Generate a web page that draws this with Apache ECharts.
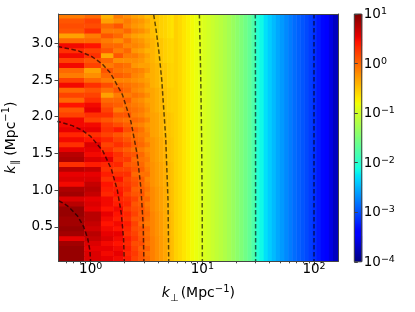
<!DOCTYPE html>
<html><head><meta charset="utf-8">
<script src="https://cdn.jsdelivr.net/npm/echarts@6/dist/echarts.min.js"></script>
<style>html,body{margin:0;padding:0;background:#fff}#c{width:415px;height:312px}</style>
</head><body><div id="c"></div>
<script>
// ---------------- data ----------------
// k_perp bin edges (Mpc^-1): linear bins at low k, log bins at high k
const kperpEdgesLow = [0.515, 0.875, 1.235, 1.595, 1.955, 2.315, 2.675, 3.035, 3.395, 3.755, 4.115, 4.475, 4.835, 5.195, 5.555];
const kperpEdgesHigh = [5.555, 6.04, 6.57, 7.15, 7.78, 8.46, 9.20, 10.0, 10.9, 11.9, 12.9, 14.0, 15.3, 16.6, 18.1, 19.7, 21.4, 23.3, 25.3, 27.5, 29.9, 32.5, 35.4, 38.5, 41.9, 45.5, 49.5, 53.9, 58.6, 63.7, 69.3, 75.4, 82.0, 89.2, 97.0, 105.5, 114.8, 124.8, 135.8, 147.7, 165];
const kparRange = [0.03, 3.4];
// log10 power, columns of first 8 k_perp bins, rows from top (high k_par) to bottom
const powerFine = [
  [-0.1,0.1,0.15,0.1,-0.3,0.0,0.5,0.3,0.5,0.2, 0.5,0.0,-0.1,0.2,0.5,0.0,0.2,0.0,0.45,0.1, 0.2,0.5,0.5,0.55,0.35,0.5,0.3,0.55,0.75,0.8, 0.3,0.75,0.55,0.6,0.5,0.8,0.85,0.6,0.75,0.9, 0.9,0.85,0.85,0.9,0.85,0.55,0.85,0.9,0.9,0.9],
  [0.0,0.2,0.15,0.3,-0.1,0.0,0.45,0.2,0.3,0.1, 0.2,-0.3,-0.2,0.0,0.3,0.1,0.2,0.3,0.5,0.55, 0.3,0.2,0.5,0.55,0.3,0.45,0.6,0.55,0.5,0.6, 0.4,0.7,0.55,0.6,0.7,0.75,0.7,0.55,0.6,0.55, 0.75,0.75,0.7,0.65,0.75,0.7,0.6,0.55,0.6,0.6],
  [-0.4,-0.3,0.0,-0.1,0.1,-0.1,0.0,0.1,-0.35,0.0, -0.1,0.1,0.0,-0.1,0.15,-0.05,-0.3,0.0,0.1,0.2, 0.3,0.1,0.25,0.3,0.2,0.35,0.2,0.3,0.45,0.55, 0.35,0.3,0.4,0.3,0.45,0.4,0.35,0.5,0.5,0.45, 0.55,0.5,0.45,0.5,0.55,0.6,0.5,0.55,0.5,0.55],
  [-0.1,-0.2,0.1,-0.1,0.0,-0.2,0.0,-0.1,0.1,-0.2, 0.0,-0.05,0.05,-0.15,0.0,0.1,-0.1,0.0,0.05,-0.1, 0.1,0.0,0.15,0.4,0.1,0.2,0.3,0.15,0.3,0.25, 0.35,0.2,0.3,0.45,0.3,0.4,0.45,0.35,0.4,0.5, 0.45,0.4,0.5,0.45,0.55,0.5,0.45,0.5,0.55,0.5],
  [-0.2,-0.1,-0.15,0.0,-0.2,-0.05,-0.15,0.0,-0.1,-0.2, -0.05,-0.1,0.0,-0.15,-0.05,0.0,-0.1,0.05,-0.05,0.0, 0.1,-0.05,0.05,0.15,0.0,0.1,0.2,0.05,0.15,0.25, 0.1,0.2,0.3,0.2,0.25,0.3,0.2,0.3,0.35,0.25, 0.35,0.3,0.4,0.35,0.3,0.4,0.35,0.4,0.35,0.4],
  [-0.3,-0.2,-0.25,-0.15,-0.3,-0.2,-0.15,-0.25,-0.1,-0.2, -0.25,-0.1,-0.15,-0.2,-0.1,-0.15,-0.05,-0.15,-0.1,-0.05, -0.1,0.0,-0.1,0.05,-0.05,0.0,0.05,-0.05,0.1,0.0, 0.05,0.1,0.0,0.1,0.15,0.05,0.1,0.2,0.1,0.15, 0.2,0.1,0.2,0.15,0.2,0.25,0.15,0.2,0.25,0.2],
  [-0.35,-0.25,-0.3,-0.2,-0.35,-0.25,-0.2,-0.3,-0.2,-0.25, -0.3,-0.15,-0.2,-0.25,-0.15,-0.2,-0.1,-0.2,-0.15,-0.1, -0.15,-0.05,-0.15,-0.05,-0.1,-0.05,0.0,-0.1,0.0,-0.05, 0.0,0.05,-0.05,0.05,0.0,0.05,0.1,0.0,0.05,0.1, 0.05,0.1,0.0,0.1,0.05,0.1,0.15,0.05,0.1,0.1],
  [-0.45,-0.35,-0.4,-0.3,-0.4,-0.35,-0.3,-0.4,-0.3,-0.35, -0.3,-0.25,-0.35,-0.3,-0.25,-0.3,-0.2,-0.3,-0.25,-0.2, -0.25,-0.15,-0.25,-0.2,-0.15,-0.2,-0.1,-0.2,-0.15,-0.1, -0.15,-0.1,-0.05,-0.15,-0.1,-0.05,-0.1,0.0,-0.1,-0.05, 0.0,-0.05,-0.1,0.0,-0.05,0.0,-0.05,0.05,-0.05,0.0]
];
// log10 power, k_perp bins 9-14, coarse rows from top to bottom
const powerMid = [
  [-0.45,-0.4,-0.38,-0.32,-0.3,-0.25,-0.22,-0.18,-0.15,-0.12],
  [-0.5,-0.46,-0.42,-0.38,-0.33,-0.3,-0.28,-0.25,-0.22,-0.2],
  [-0.55,-0.5,-0.48,-0.42,-0.4,-0.36,-0.33,-0.3,-0.28,-0.27],
  [-0.58,-0.55,-0.5,-0.48,-0.45,-0.4,-0.38,-0.36,-0.35,-0.33],
  [-0.62,-0.58,-0.55,-0.52,-0.48,-0.46,-0.43,-0.42,-0.4,-0.4],
  [-0.65,-0.6,-0.58,-0.55,-0.52,-0.5,-0.48,-0.47,-0.46,-0.45]
];
// log10 power for high k_perp bins (nearly independent of k_par)
const powerHigh = [-0.55,-0.6,-0.66,-0.72,-0.78,-0.83,-0.88,-0.93,-0.98,-1.03,-1.08,-1.13,-1.19,-1.25,-1.32,-1.4,-1.48,-1.56,-1.65,-1.78,-2.02,-2.15,-2.27,-2.37,-2.46,-2.55,-2.62,-2.7,-2.77,-2.84,-2.9,-2.96,-3.02,-3.08,-3.15,-3.25,-3.35,-3.45,-3.57,-3.72];
// dashed contours of constant |k| : [k_perp, k_par] points
const contourK1 = [[1.0,0],[0.985,0.174],[0.94,0.342],[0.866,0.5],[0.766,0.643],[0.643,0.766],[0.574,0.819],[0.5,0.866]];
const contourK2 = [[2.0,0],[1.97,0.347],[1.879,0.684],[1.732,1.0],[1.532,1.286],[1.286,1.532],[1.0,1.732],[0.845,1.813],[0.684,1.879],[0.518,1.932],[0.347,1.97]];
const contourK3 = [[3.0,0],[2.954,0.521],[2.819,1.026],[2.598,1.5],[2.298,1.928],[1.928,2.298],[1.5,2.598],[1.268,2.719],[1.026,2.819],[0.776,2.898],[0.521,2.954],[0.261,2.989]];
const contourK5 = [[5.0,0],[4.924,0.868],[4.698,1.71],[4.33,2.5],[4.096,2.868],[3.83,3.214],[3.536,3.536]];
const contourK10 = [[10,0],[9.962,0.872],[9.848,1.736],[9.659,2.588],[9.397,3.42]];
const contourK30 = [[30,0],[29.95,1.7],[29.81,3.4]];
const contourK100 = [[100,0],[99.94,3.4]];
const xTicks = [1, 10, 100];
const xMinorTicks = [0.6,0.7,0.8,0.9,2,3,4,5,6,7,8,9,20,30,40,50,60,70,80,90];
const yTicks = [0.5, 1.0, 1.5, 2.0, 2.5, 3.0];
const cbarTicks = [-4, -3, -2, -1, 0, 1];

// ---------------- build ----------------
const FONT = 'DejaVu Sans';
const cells = [];
function addBlock(xEdges, cols) {
  cols.forEach((col, i) => {
    const n = col.length, dy = (kparRange[1] - kparRange[0]) / n;
    col.forEach((v, j) => {
      const top = kparRange[1] - j * dy;
      cells.push([xEdges[i], xEdges[i + 1], top - dy, top, v]);
    });
  });
}
addBlock(kperpEdgesLow.slice(0, 9), powerFine);
addBlock(kperpEdgesLow.slice(8), powerMid);
addBlock(kperpEdgesHigh, powerHigh.map(v => [v]));

function jet(t) {
  const seg = pts => {
    for (let i = 1; i < pts.length; i++) {
      if (t <= pts[i][0]) { const a = pts[i - 1], b = pts[i]; return a[1] + (b[1] - a[1]) * (t - a[0]) / (b[0] - a[0]); }
    }
    return pts[pts.length - 1][1];
  };
  const r = seg([[0,0],[0.35,0],[0.66,1],[0.89,1],[1,0.5]]);
  const g = seg([[0,0],[0.125,0],[0.375,1],[0.64,1],[0.91,0],[1,0]]);
  const b = seg([[0,0.5],[0.11,1],[0.34,1],[0.65,0],[1,0]]);
  return 'rgb(' + Math.round(r * 255) + ',' + Math.round(g * 255) + ',' + Math.round(b * 255) + ')';
}
const jetStops = [];
for (let i = 0; i <= 100; i++) jetStops.push(jet(i / 100));

const cbar = [];
for (let i = 0; i < 250; i++) {
  const y0 = -4 + i * 0.02, y1 = y0 + 0.02;
  cbar.push([0, 1, y0, y1, (y0 + y1) / 2]);
}

function renderCell(params, api) {
  const p0 = api.coord([api.value(0), api.value(2)]);
  const p1 = api.coord([api.value(1), api.value(3)]);
  return { type: 'rect', shape: { x: p0[0], y: p1[1] - 0.4, width: p1[0] - p0[0] + 0.5, height: p0[1] - p1[1] + 0.8 },
    style: { fill: api.visual('color') } };
}
function renderFrame(params, api) {
  const p0 = api.coord([api.value(0), api.value(2)]);
  const p1 = api.coord([api.value(1), api.value(3)]);
  return { type: 'rect', shape: { x: p0[0], y: p1[1], width: p1[0] - p0[0], height: p0[1] - p1[1] },
    style: { fill: 'none', stroke: '#444', lineWidth: 1 } };
}
const sup = v => (v < 0 ? '\u2212' + (-v) : '' + v);
const lineStyle = { color: 'rgba(0,0,0,0.62)', width: 1.5, type: [4.5, 2.5] };
const contourSeries = [contourK1, contourK2, contourK3, contourK5, contourK10, contourK30, contourK100].map(d => ({
  type: 'line', data: d, xAxisIndex: 0, yAxisIndex: 0, symbol: 'none', showSymbol: false, silent: true,
  clip: true, z: 5, lineStyle: lineStyle
}));
const labelRich = {
  b: { fontFamily: FONT, fontSize: 13.5, color: '#000', lineHeight: 15, verticalAlign: 'bottom' },
  s: { fontFamily: FONT, fontSize: 9.5, color: '#000', lineHeight: 10, verticalAlign: 'top', padding: [0, 0, 8, 0] }
};
const nameRich = {
  i: { fontFamily: FONT, fontSize: 14, fontStyle: 'italic', color: '#000', lineHeight: 19, verticalAlign: 'middle' },
  n: { fontFamily: FONT, fontSize: 14, color: '#000', lineHeight: 19, verticalAlign: 'middle' },
  sub: { fontFamily: FONT, fontSize: 10, color: '#000', lineHeight: 9, verticalAlign: 'bottom', padding: [0, 2, 0, 0] },
  sup: { fontFamily: FONT, fontSize: 10, color: '#000', lineHeight: 9, verticalAlign: 'top' }
};
const nameRichY = Object.assign({}, nameRich, {
  sub: { fontFamily: FONT, fontSize: 10, color: '#000', lineHeight: 9, verticalAlign: 'bottom', padding: [0, 4, 0, 1] }
});
const axLine = { show: true, lineStyle: { color: '#444', width: 1 } };
const tick = { lineStyle: { color: '#444', width: 1 } };

const chart = echarts.init(document.getElementById('c'), null, { renderer: 'canvas' });
chart.setOption({
  animation: false,
  backgroundColor: '#fff',
  grid: [
    { left: 58.5, top: 14, width: 279.8, height: 247.3, outerBoundsMode: 'none' },
    { left: 354.3, top: 14, width: 7.4, height: 247.8, outerBoundsMode: 'none' }
  ],
  xAxis: [
    { type: 'log', gridIndex: 0, min: 0.515, max: 165, position: 'bottom', z: 10,
      axisLine: axLine, splitLine: { show: false },
      axisTick: Object.assign({ show: true, length: 4, inside: false, customValues: xTicks }, tick),
      axisLabel: { customValues: xTicks, margin: 0, formatter: v => '{b|10}{s|' + sup(Math.round(Math.log10(v))) + '}', rich: labelRich },
      name: '{i|k}{sub|\u22a5}{n|(Mpc}{sup|\u22121}{n|)}', nameLocation: 'middle', nameGap: 21,
      nameTextStyle: { rich: nameRich } },
    { type: 'log', gridIndex: 0, min: 0.515, max: 165, position: 'bottom', z: 10,
      axisLine: { show: false }, splitLine: { show: false }, axisLabel: { show: false },
      axisTick: Object.assign({ show: true, length: 2, inside: false, customValues: xMinorTicks }, tick) },
    { type: 'log', gridIndex: 0, min: 0.515, max: 165, position: 'top', z: 10,
      axisLine: axLine, splitLine: { show: false }, axisLabel: { show: false }, axisTick: { show: false } },
    { type: 'value', gridIndex: 1, min: 0, max: 1, show: false }
  ],
  yAxis: [
    { type: 'value', gridIndex: 0, min: kparRange[0], max: kparRange[1], position: 'left', z: 10,
      axisLine: axLine, splitLine: { show: false },
      axisTick: Object.assign({ show: true, length: 4, inside: false, customValues: yTicks }, tick),
      axisLabel: { customValues: yTicks, margin: 5.5, formatter: v => v.toFixed(1), fontFamily: FONT, fontSize: 13.5, color: '#000' },
      name: '{i|k}{sub|\u2225}{n|(Mpc}{sup|\u22121}{n|)}', nameLocation: 'middle', nameGap: 28, nameRotate: 90,
      nameTextStyle: { rich: nameRichY } },
    { type: 'value', gridIndex: 0, min: kparRange[0], max: kparRange[1], position: 'right', z: 10,
      axisLine: axLine, splitLine: { show: false }, axisLabel: { show: false }, axisTick: { show: false } },
    { type: 'value', gridIndex: 1, min: -4, max: 1, position: 'right', z: 10,
      axisLine: { show: false }, splitLine: { show: false },
      axisTick: Object.assign({ show: true, length: 3.5, inside: false, customValues: cbarTicks }, tick),
      axisLabel: { customValues: cbarTicks, margin: 2, formatter: v => '{b|10}{s|' + sup(Math.round(v)) + '}', rich: labelRich } }
  ],
  visualMap: { show: false, type: 'continuous', min: -4, max: 1, dimension: 4, seriesIndex: [0, 1], inRange: { color: jetStops } },
  series: [
    { type: 'custom', xAxisIndex: 0, yAxisIndex: 0, data: cells, renderItem: renderCell, clip: true, z: 1, silent: true,
      encode: { x: [0, 1], y: [2, 3] } },
    { type: 'custom', xAxisIndex: 3, yAxisIndex: 2, data: cbar, renderItem: renderCell, clip: true, z: 1, silent: true,
      encode: { x: [0, 1], y: [2, 3] } },
    { type: 'custom', xAxisIndex: 3, yAxisIndex: 2, data: [[0, 1, -4, 1]], renderItem: renderFrame, z: 10, silent: true,
      encode: { x: [0, 1], y: [2, 3] } }
  ].concat(contourSeries)
});
</script></body></html>
